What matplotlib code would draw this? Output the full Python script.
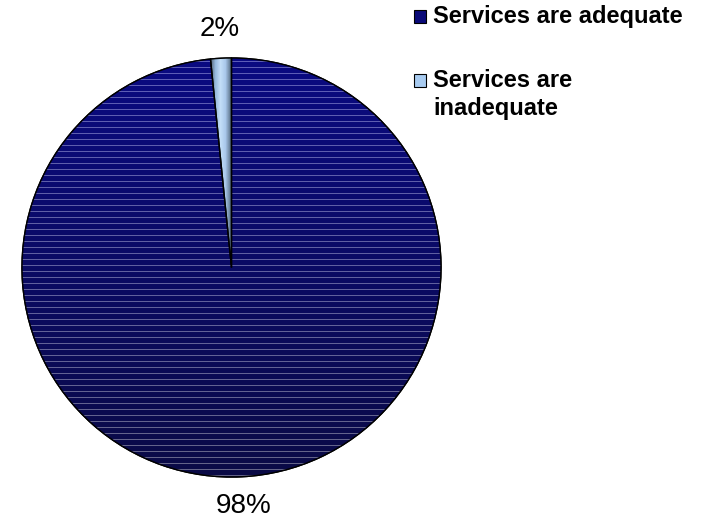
import numpy as np
import matplotlib
matplotlib.use('Agg')
import matplotlib.pyplot as plt
from matplotlib.patches import Wedge, Rectangle

plt.rcParams['font.family'] = ['Liberation Sans', 'DejaVu Sans']

labels = ['Services are adequate', 'Services are\ninadequate']
values = [98.4, 1.6]
colors = ['#0a0a78', '#a8cbf0']

W, H = 706, 520
fig = plt.figure(figsize=(W / 100, H / 100), dpi=100)
ax = fig.add_axes([0, 0, 1, 1])

cx, cy, r = 231.5, H - 267.5, 209.5

wedges, texts, autotexts = ax.pie(
    values, colors=colors, startangle=90, counterclock=False,
    center=(cx, cy), radius=r,
    autopct=lambda p: '%.0f%%' % p, pctdistance=1.14,
    wedgeprops=dict(edgecolor='black', linewidth=1),
    textprops=dict(fontsize=20, color='black'))

# striped vertical gradient for the big slice
n = int(2 * r)
t = np.linspace(0, 1, n)[:, None]
base_top = np.array([10, 10, 130]) / 255
base_bot = np.array([10, 10, 70]) / 255
str_top = np.array([92, 92, 184]) / 255
str_bot = np.array([100, 100, 135]) / 255
img = base_top * (1 - t) + base_bot * t
stripe = str_top * (1 - t) + str_bot * t
rows = np.arange(n)
mask = rows % 6 == 3
img[mask] = stripe[mask]
im = ax.imshow(img[:, None, :], extent=(cx - r, cx + r, cy - r, cy + r),
               origin='upper', aspect='auto', interpolation='nearest', zorder=1.5)
im.set_clip_path(wedges[0])

# horizontal shading across the thin slice
x0 = cx - r * np.sin(np.radians(values[1] / 100 * 360)) - 2
sh = np.array([[80, 96, 112], [150, 185, 220], [195, 222, 248],
               [170, 200, 235], [96, 120, 144]]) / 255
im2 = ax.imshow(sh[None, :, :], extent=(x0, cx + 1, cy, cy + r),
                origin='upper', aspect='auto', interpolation='bilinear', zorder=1.6)
im2.set_clip_path(wedges[1])

# redraw outlines on top
for w in wedges:
    ax.add_patch(Wedge(w.center, w.r, w.theta1, w.theta2, fill=False,
                       edgecolor='black', linewidth=1, zorder=3))
for a in autotexts:
    a.set_zorder(4)

# legend
ax.add_patch(Rectangle((414, H - 23), 12, 13, facecolor=colors[0],
                       edgecolor='black', linewidth=0.8, zorder=3))
ax.text(433, H - 23, labels[0], fontsize=17, fontweight='bold', va='baseline')
ax.add_patch(Rectangle((414, H - 87), 12, 13, facecolor=colors[1],
                       edgecolor='black', linewidth=0.8, zorder=3))
for i, line in enumerate(labels[1].split('\n')):
    ax.text(433, H - 87 - 28 * i, line, fontsize=17, fontweight='bold', va='baseline')

ax.set_xlim(0, W)
ax.set_ylim(0, H)
ax.set_aspect('equal')
ax.axis('off')

fig.savefig('out.png', dpi=100)
